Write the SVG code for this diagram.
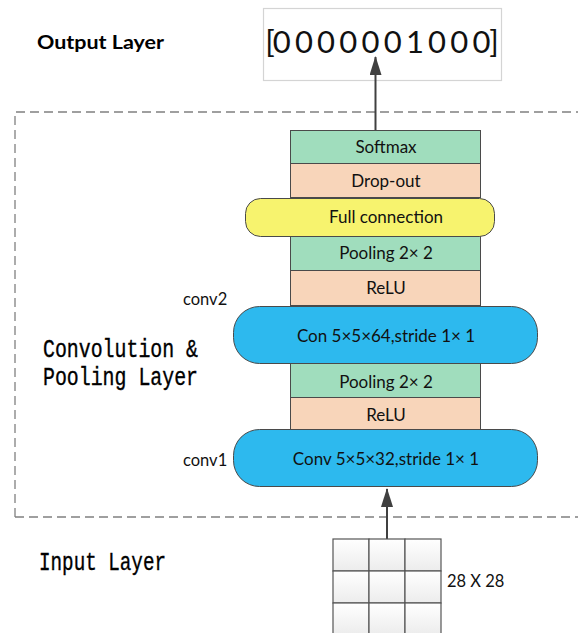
<svg xmlns="http://www.w3.org/2000/svg" width="578" height="633" viewBox="0 0 578 633">
  <style>
    .box { stroke: #4a4a4a; stroke-width: 1; }
    .green { fill: #a0ddbd; }
    .peach { fill: #f8d5ba; }
    .yellow { fill: #f7f36e; }
    .blue { fill: #2db9ee; }
    .lbl { font-family: Lato, "Open Sans", sans-serif; font-size: 17px; fill: #111; text-anchor: middle; }
    .side { font-family: Lato, "Open Sans", sans-serif; font-size: 16.5px; fill: #111; }
    .mono { font-family: "Liberation Mono", "DejaVu Sans Mono", monospace; font-size: 25px; fill: #000; stroke: #000; stroke-width: 0.35; }
    .vec { font-family: Lato, "Open Sans", sans-serif; font-size: 31px; fill: #111; text-anchor: middle; }
    .conn { stroke: #404040; stroke-width: 2; fill: none; }
    .cell { fill: url(#cellGrad); stroke: #555; stroke-width: 1.2; }
  </style>
  <defs>
    <marker id="arrow" viewBox="0 0 19 12" refX="18" refY="6" markerWidth="19" markerHeight="12" orient="auto" markerUnits="userSpaceOnUse">
      <path d="M0,0 L19,6 L0,12 Z" fill="#404040"/>
    </marker>
    <linearGradient id="cellGrad" x1="0" y1="0" x2="0" y2="1">
      <stop offset="0" stop-color="#ffffff"/>
      <stop offset="1" stop-color="#ececec"/>
    </linearGradient>
  </defs>

  <rect width="578" height="633" fill="#ffffff"/>

  <!-- layer frame -->
  <path d="M15,517 L15,112 L580,112 M15,517 L580,517" fill="none" stroke="#808080" stroke-width="1.3" stroke-dasharray="9,5"/>

  <!-- layer titles -->
  <text x="37" y="49" font-family="Lato, 'Open Sans', sans-serif" font-weight="bold" font-size="19.5" fill="#000" textLength="127" lengthAdjust="spacingAndGlyphs">Output Layer</text>
  <text class="mono" x="43" y="357" textLength="155" lengthAdjust="spacingAndGlyphs">Convolution &amp;</text>
  <text class="mono" x="43" y="385" textLength="155" lengthAdjust="spacingAndGlyphs">Pooling Layer</text>
  <text class="mono" x="39" y="570" textLength="127" lengthAdjust="spacingAndGlyphs">Input Layer</text>

  <!-- output vector: one glyph per position -->
  <g id="output">
    <rect x="263.5" y="8.5" width="238" height="72" fill="#ffffff" stroke="#d4d4d4" stroke-width="1.2"/>
    <text class="vec" x="270 281.7 303.9 326.1 348.3 370.5 392.7 414.9 437.1 459.3 481.5 494" y="53">[0000001000]</text>
  </g>

  <!-- connectors -->
  <g id="connectors">
    <line class="conn" x1="375.5" y1="131" x2="375.5" y2="57" marker-end="url(#arrow)"/>
    <line class="conn" x1="387" y1="539" x2="387" y2="489" marker-end="url(#arrow)"/>
  </g>

  <!-- network stack -->
  <g id="softmax">
    <rect class="box green" x="290.5" y="130.5" width="190" height="33"/>
    <text class="lbl" x="386" y="153">Softmax</text>
  </g>
  <g id="dropout">
    <rect class="box peach" x="290.5" y="163.5" width="190" height="34"/>
    <text class="lbl" x="386" y="187">Drop-out</text>
  </g>
  <g id="pool2">
    <rect class="box green" x="290.5" y="236.5" width="190" height="34"/>
    <text class="lbl" x="386" y="259">Pooling 2× 2</text>
  </g>
  <g id="relu2">
    <rect class="box peach" x="290.5" y="270.5" width="190" height="35"/>
    <text class="lbl" x="386" y="294">ReLU</text>
  </g>
  <g id="fc">
    <rect class="box yellow" x="245.5" y="198.5" width="249" height="38" rx="15" ry="15"/>
    <text class="lbl" x="386" y="223">Full connection</text>
  </g>
  <g id="pool1">
    <rect class="box green" x="290.5" y="363.5" width="190" height="34"/>
    <text class="lbl" x="386" y="388">Pooling 2× 2</text>
  </g>
  <g id="relu1">
    <rect class="box peach" x="290.5" y="397.5" width="190" height="33"/>
    <text class="lbl" x="386" y="421">ReLU</text>
  </g>
  <g id="conv2">
    <rect class="box blue" x="233.5" y="306.5" width="304" height="57" rx="26" ry="26"/>
    <text class="lbl" x="386" y="342">Con 5×5×64,stride 1× 1</text>
    <text class="side" x="183" y="305">conv2</text>
  </g>
  <g id="conv1">
    <rect class="box blue" x="233.5" y="429.5" width="304" height="57" rx="26" ry="26"/>
    <text class="lbl" x="386" y="465">Conv 5×5×32,stride 1× 1</text>
    <text class="side" x="183" y="466">conv1</text>
  </g>

  <!-- input image grid -->
  <g id="input">
    <rect class="cell" x="333" y="539" width="36" height="32"/>
    <rect class="cell" x="369" y="539" width="36" height="32"/>
    <rect class="cell" x="405" y="539" width="36" height="32"/>
    <rect class="cell" x="333" y="571" width="36" height="32"/>
    <rect class="cell" x="369" y="571" width="36" height="32"/>
    <rect class="cell" x="405" y="571" width="36" height="32"/>
    <rect class="cell" x="333" y="603" width="36" height="32"/>
    <rect class="cell" x="369" y="603" width="36" height="32"/>
    <rect class="cell" x="405" y="603" width="36" height="32"/>
    <text class="side" x="447" y="587">28 X 28</text>
  </g>
</svg>
